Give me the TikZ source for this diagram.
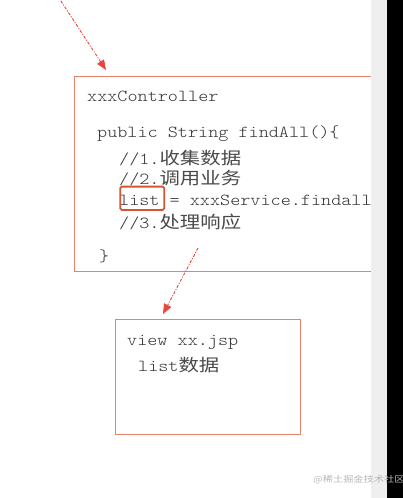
\documentclass[tikz,border=0pt]{standalone}
\usepackage{fontspec}
\setmonofont{Latin Modern Mono Light}[FakeStretch=1.145]
\newfontfamily\cjk[FakeStretch=1.2]{Noto Sans CJK SC}
\usetikzlibrary{arrows.meta}
\definecolor{boxline}{HTML}{E9826A}
\definecolor{hilite}{HTML}{D9532F}
\definecolor{arrowred}{HTML}{E8453C}
\definecolor{codetext}{HTML}{333333}
\definecolor{zhtext}{HTML}{4A4A4A}
\definecolor{strip}{HTML}{EFEFEF}
\definecolor{wm}{HTML}{B8B8B8}
\newcommand{\zh}[1]{{\cjk\fontsize{17}{20}\selectfont\color{zhtext}#1}}
\tikzset{
  codebox/.style={draw=boxline, line width=1.3pt, rectangle, inner sep=0pt, anchor=north west},
  code/.style={anchor=base west, inner sep=0pt, text=codetext, font=\ttfamily\fontsize{16.8}{20}\selectfont},
  hlbox/.style={draw=hilite, line width=1.8pt, rounded corners=1.5pt, inner sep=0pt, anchor=north west},
  flow/.style={draw=arrowred, line width=0.9pt, dash pattern=on 3pt off 1.5pt on 1pt off 1.5pt, -{Triangle[length=10pt,width=8pt]}}
}
\begin{document}
\begin{tikzpicture}[x=1pt,y=-1pt]
\useasboundingbox (0,0) rectangle (403,498);
\fill[white] (0,0) rectangle (403,498);
% boxes
\node[codebox, minimum width=330pt, minimum height=194.7pt] (ctrl) at (74,76) {};
\node[codebox, minimum width=185pt, minimum height=115pt] (view) at (114.5,319) {};
% controller text
\node[code] (t1) at (87,101) {xxxController};
\node[code] (t2) at (97,137) {public String findAll()\{};
\node[code] (t3) at (119,164) {//1.\zh{收集数据}};
\node[code] (t4) at (119,184) {//2.\zh{调用业务}};
\node[code] (t5) at (119,205.5) {list = xxxService.findall()};
\node[code] (t6) at (119,228) {//3.\zh{处理响应}};
\node[code] (t7) at (99,261) {\}};
\node[hlbox, minimum width=44pt, minimum height=23.3pt] (hl) at (119.3,185.7) {};
% view text
\node[code] (v1) at (127,345) {view xx.jsp};
\node[code] (v2) at (138,371) {list\zh{数据}};
% arrows
\coordinate (a1s) at (57,-5);
\coordinate (a1e) at (106,70);
\coordinate (a2s) at (198,248);
\coordinate (a2e) at (163,314);
\draw[flow] (a1s) -- (a1e);
\draw[flow] (a2s) -- (a2e);
% right strip
\fill[strip] (371,0) rectangle (387,498);
\fill[black] (387,0) rectangle (403,498);
% watermark
\node[anchor=west, inner sep=0pt, text=wm, font=\cjk\fontsize{8.5}{10}\selectfont] (wmk) at (313,480) {@稀土掘金技术社区};
\end{tikzpicture}
\end{document}
